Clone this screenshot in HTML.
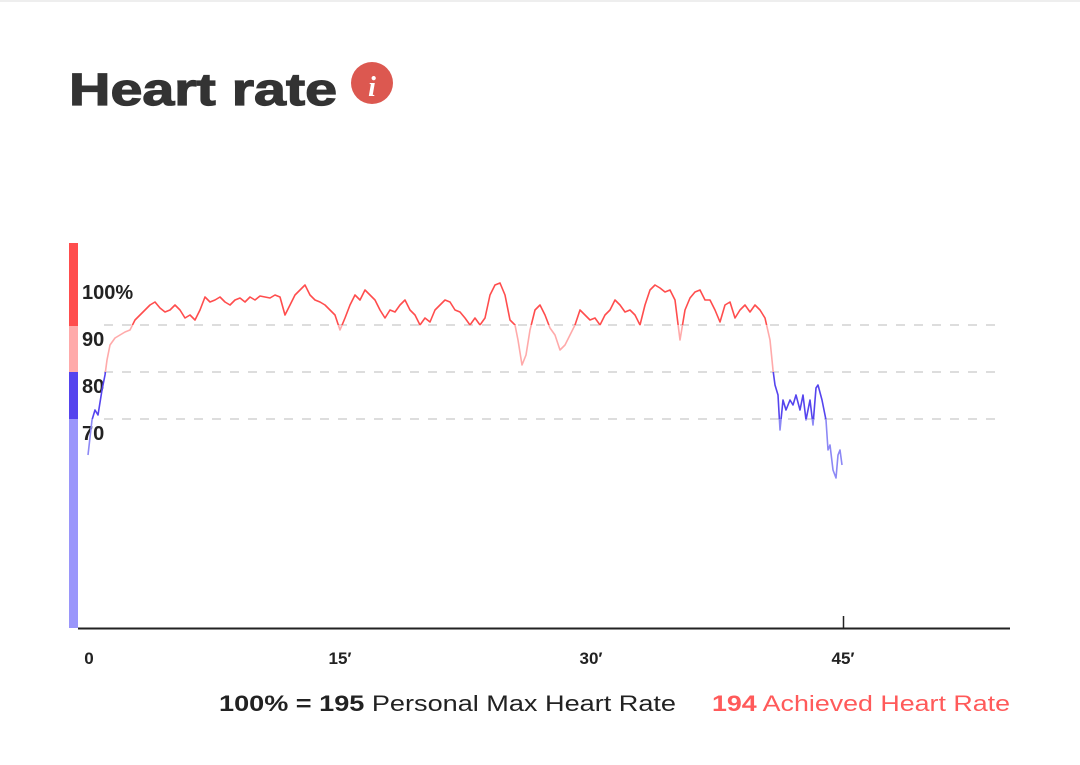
<!DOCTYPE html>
<html><head><meta charset="utf-8"><style>
html,body{margin:0;padding:0;background:#fff;width:1080px;height:765px;overflow:hidden}
</style></head><body>
<svg width="1080" height="765" viewBox="0 0 1080 765" xmlns="http://www.w3.org/2000/svg" font-family="Liberation Sans, DejaVu Sans, sans-serif">
<rect x="0" y="0" width="1080" height="2" fill="#eee"/>
<text x="69" y="105" font-size="45" font-weight="900" fill="#333" textLength="268" lengthAdjust="spacingAndGlyphs" stroke="#333" stroke-width="1.2">Heart rate</text>
<circle cx="372" cy="83" r="21" fill="#dc5850"/>
<text x="372" y="96" font-size="28" font-style="italic" font-weight="bold" fill="#fff" text-anchor="middle" font-family="Liberation Serif, serif">i</text>

<rect x="69" y="243" width="9" height="83" fill="#ff4d4d"/>
<rect x="69" y="326" width="9" height="46" fill="#ffaaaa"/>
<rect x="69" y="372" width="9" height="47" fill="#5544ee"/>
<rect x="69" y="419" width="9" height="209" fill="#9a96fb"/>

<g stroke="#ddd" stroke-width="2" stroke-dasharray="9,9">
<line x1="104" y1="325" x2="1002" y2="325"/>
<line x1="104" y1="372" x2="1002" y2="372"/>
<line x1="104" y1="419" x2="1002" y2="419"/>
</g>
<g font-size="20" font-weight="bold" fill="#222">
<text x="82" y="299">100%</text>
<text x="82" y="346">90</text>
<text x="82" y="393">80</text>
<text x="82" y="440">70</text>
</g>

<defs>
<clipPath id="c1"><rect x="0" y="0" width="1080" height="325"/></clipPath>
<clipPath id="c2"><rect x="0" y="325" width="1080" height="47"/></clipPath>
<clipPath id="c3"><rect x="0" y="372" width="1080" height="47"/></clipPath>
<clipPath id="c4"><rect x="0" y="419" width="1080" height="300"/></clipPath>
<polyline id="hr" fill="none" stroke-width="1.6" stroke-linejoin="round" points="88,455 92,420 95,410 98,415 102,390 105,375 107,360 110,345 115,338 120,335 125,332 130,330 135,320 140,315 145,310 150,305 155,302 160,308 165,312 170,310 175,305 180,310 185,318 190,315 195,320 200,310 205,297 210,302 215,300 220,297 225,302 230,305 235,300 240,298 245,302 250,297 255,300 260,296 265,297 270,298 275,295 280,297 285,315 290,305 295,295 300,290 305,285 310,295 315,300 320,302 325,305 330,310 335,315 340,330 345,318 350,305 355,295 360,300 365,290 370,295 375,300 380,310 385,318 390,310 395,312 400,305 405,300 410,310 415,315 420,325 425,318 430,322 435,310 440,305 445,300 450,302 455,310 460,312 465,318 470,325 475,318 480,325 485,318 490,295 495,285 500,283 505,295 510,320 515,325 518,340 522,365 526,355 530,330 535,310 540,305 545,315 550,328 555,335 560,350 565,345 570,335 575,325 580,310 585,315 590,320 595,318 600,325 605,315 610,310 615,300 620,305 625,312 630,310 635,315 640,325 645,305 650,290 655,285 660,288 665,292 670,290 675,300 680,340 685,310 690,298 695,292 700,290 705,300 710,300 715,310 720,322 725,305 730,302 735,318 740,310 745,305 750,312 755,305 760,310 765,318 770,340 773,370 775,385 778,395 780,430 783,400 786,410 790,400 793,405 796,395 800,410 803,395 806,420 810,400 813,425 816,388 818,385 822,400 826,420 828,450 830,445 833,470 836,478 838,455 840,450 842,465"/>
</defs>
<use href="#hr" stroke="#ff4d4d" clip-path="url(#c1)"/>
<use href="#hr" stroke="#ffaaaa" clip-path="url(#c2)"/>
<use href="#hr" stroke="#5544ee" clip-path="url(#c3)"/>
<use href="#hr" stroke="#8c88f5" clip-path="url(#c4)"/>

<line x1="78" y1="628.5" x2="1010" y2="628.5" stroke="#222" stroke-width="2"/>
<line x1="843.5" y1="616" x2="843.5" y2="628" stroke="#222" stroke-width="1.5"/>
<g font-size="17" font-weight="bold" fill="#222" text-anchor="middle">
<text x="89" y="664">0</text>
<text x="340" y="664">15′</text>
<text x="591" y="664">30′</text>
<text x="843" y="664">45′</text>
</g>
<text x="219" y="711" font-size="22" fill="#222" textLength="457" lengthAdjust="spacingAndGlyphs"><tspan font-weight="bold">100% = 195</tspan> Personal Max Heart Rate</text>
<text x="712" y="711" font-size="22" fill="#ff5a5a" textLength="298" lengthAdjust="spacingAndGlyphs"><tspan font-weight="bold">194</tspan> Achieved Heart Rate</text>
</svg>
</body></html>
